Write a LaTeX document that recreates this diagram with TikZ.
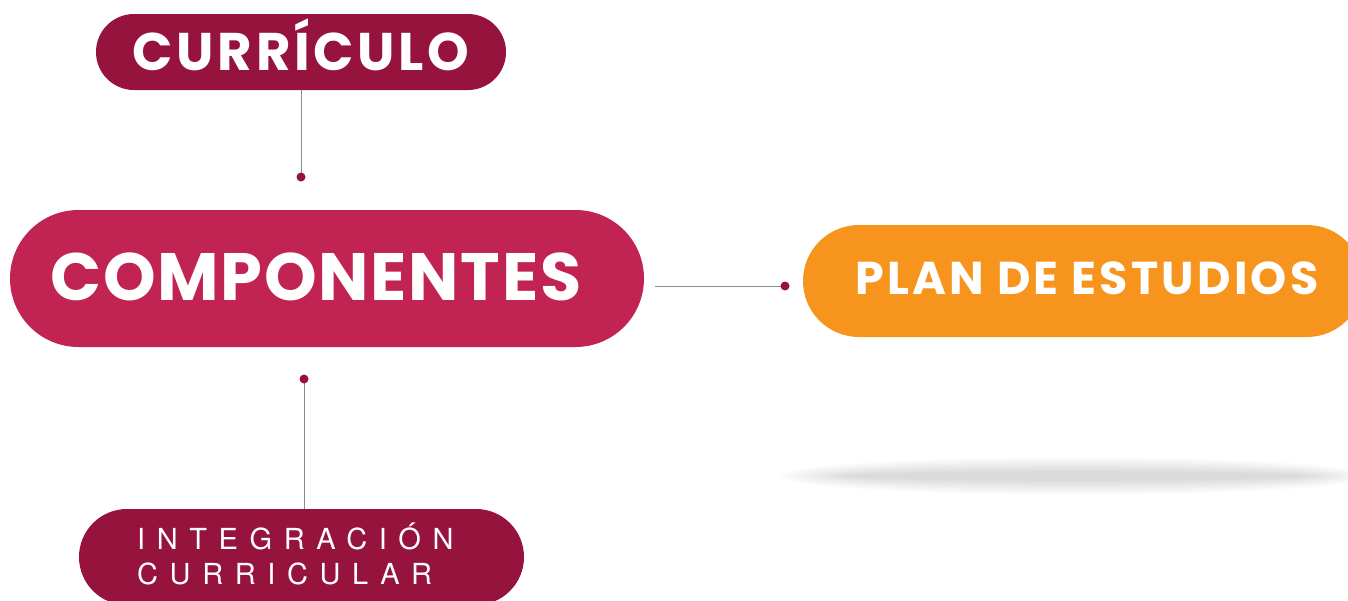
\documentclass[tikz,border=0pt]{standalone}
\usepackage{fontspec}
\setmainfont{Poppins}
\newfontfamily\titlefont{Poppins}
\newfontfamily\spacedfont[LetterSpace=40]{TeX Gyre Heros}
\definecolor{wine}{HTML}{95133C}
\definecolor{rose}{HTML}{C12452}
\definecolor{amber}{HTML}{F7941E}
\definecolor{linegray}{HTML}{8C8C8C}
\tikzset{
  pill/.style={draw=none, inner sep=0pt},
  title/.style={text=white, inner sep=0pt, anchor=base},
  conn/.style={draw=linegray, line width=1pt},
  dotmark/.style={circle, fill=wine, inner sep=0pt, minimum size=9pt},
}
\begin{document}
\begin{tikzpicture}[x=1pt,y=-1pt]
\useasboundingbox (0,0) rectangle (1348,600);
\begin{scope}
\clip (0,0) rectangle (1348,600);
% shadow
\foreach \i in {0,...,11}{
  \fill[black, opacity=0.011] (1075,476) ellipse ({295-\i*6} and {19-\i*1.3});
}
% pills
\node[pill, fill=wine, rounded corners=38pt, minimum width=410pt, minimum height=76pt] (cur) at (301,52) {};
\node[pill, fill=rose, rounded corners=68.5pt, minimum width=634pt, minimum height=137pt] (comp) at (327,278.5) {};
\node[pill, fill=amber, rounded corners=56pt, minimum width=560pt, minimum height=112pt] (plan) at (1083,281) {};
\node[pill, fill=wine, rounded corners=48pt, minimum width=445pt, minimum height=96pt] (integ) at (301.5,557) {};
% texts
\node[title, font=\titlefont\bfseries\fontsize{53}{53}\selectfont\addfontfeature{LetterSpace=7}] (tcur) at (301,70) {CURRÍCULO};
\node[title, font=\titlefont\bfseries\fontsize{67}{67}\selectfont\addfontfeature{LetterSpace=2.5}] (tcomp) at (316,300) {COMPONENTES};
\node[title, font=\titlefont\bfseries\fontsize{46}{46}\selectfont\addfontfeature{LetterSpace=7}] (tplan) at (1087,294) {PLAN DE ESTUDIOS};
\node[text=white, inner sep=0pt, anchor=base west, font=\spacedfont\fontsize{29}{29}\selectfont] (ti1) at (137,549) {INTEGRACIÓN};
\node[text=white, inner sep=0pt, anchor=base west, font=\spacedfont\fontsize{29}{29}\selectfont] (ti2) at (137,584) {CURRICULAR};
% connectors
\coordinate (d1) at (301,177);
\coordinate (d2) at (785,286);
\coordinate (d3) at (304,379);
\coordinate (c2) at (655,286);
\draw[conn] (cur.south) -- (d1);
\draw[conn] (c2) -- (d2);
\draw[conn] (d3) -- (304,509);
\node[dotmark] at (d1) {};
\node[dotmark] at (d2) {};
\node[dotmark] at (d3) {};
\end{scope}
\end{tikzpicture}
\end{document}
